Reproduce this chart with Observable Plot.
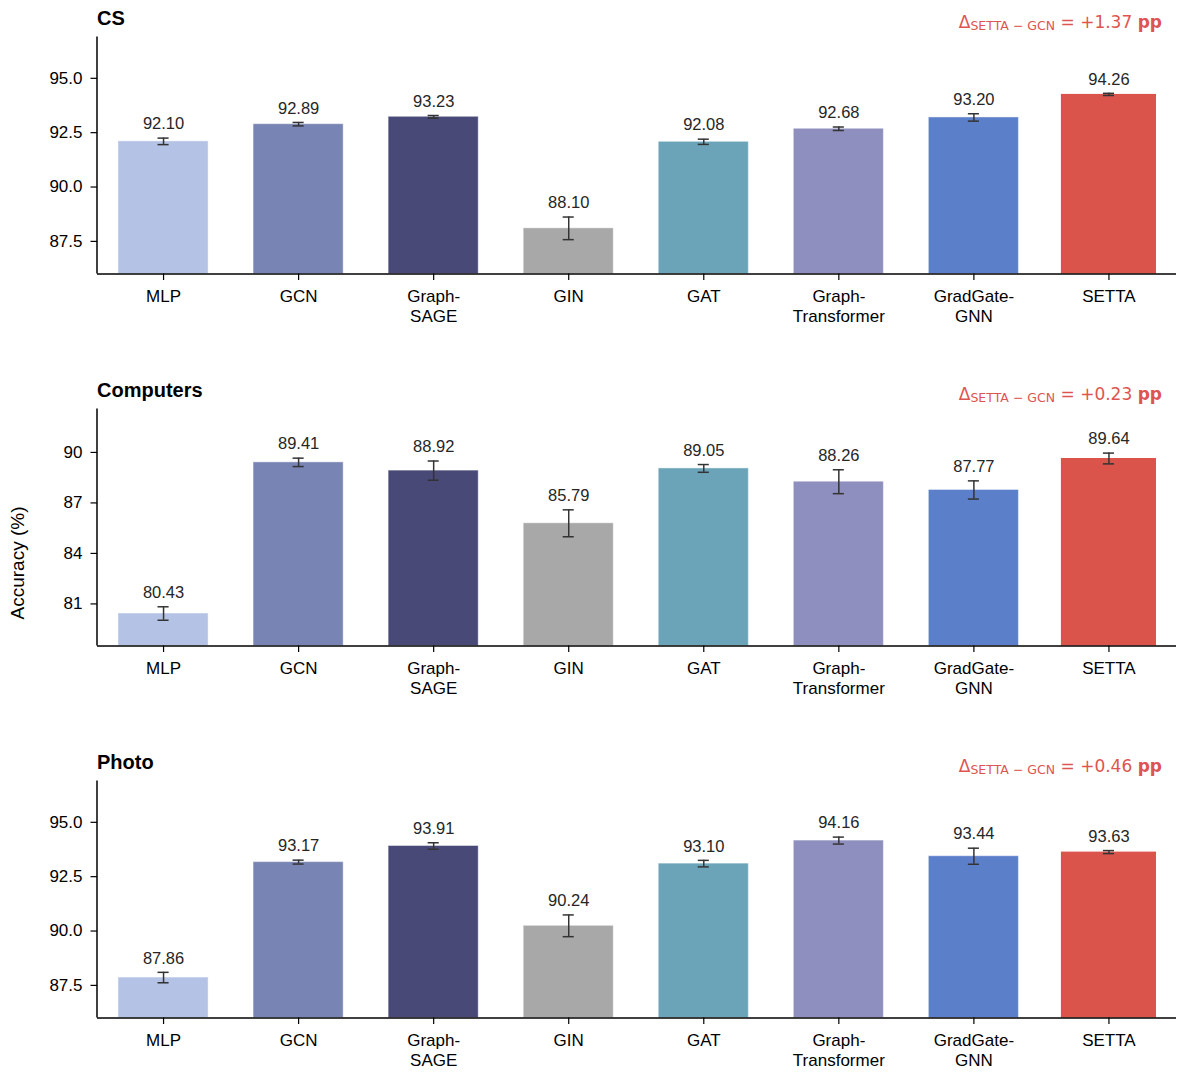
<!DOCTYPE html>
<html><head><meta charset="utf-8">
<script src="https://cdn.jsdelivr.net/npm/d3@7"></script>
<script src="https://cdn.jsdelivr.net/npm/@observablehq/plot@0.6"></script>
<style>
body{margin:0;background:#fff;}
#fig{position:relative;width:1185px;height:1074px;}
.panel{position:absolute;left:0;}
</style></head><body><div id="fig"></div>
<script>
const methods = ["MLP","GCN","GraphSAGE","GIN","GAT","GraphTransformer","GradGateGNN","SETTA"];
const methodLabels = ["MLP","GCN","Graph-\nSAGE","GIN","GAT","Graph-\nTransformer","GradGate-\nGNN","SETTA"];
const barColors = ["#b4c3e5","#7884b3","#484977","#a8a8a8","#6ba4b9","#8f8fbf","#5c7fca","#db544c"];
const datasets = ["CS","Computers","Photo"];
const csMean = [92.10,92.89,93.23,88.10,92.08,92.68,93.20,94.26];
const csStd = [0.15,0.08,0.06,0.52,0.12,0.08,0.17,0.05];
const computersMean = [80.43,89.41,88.92,85.79,89.05,88.26,87.77,89.64];
const computersStd = [0.40,0.25,0.57,0.80,0.23,0.71,0.54,0.32];
const photoMean = [87.86,93.17,93.91,90.24,93.10,94.16,93.44,93.63];
const photoStd = [0.24,0.09,0.15,0.50,0.15,0.16,0.37,0.07];
const yDomains = [[86.0,96.9],[78.5,92.58],[86.0,96.9]];
const yTicks = [[87.5,90,92.5,95],[81,84,87,90],[87.5,90,92.5,95]];
const yTickFormats = [".1f","d",".1f"];
const yLabel = "Accuracy (%)";

const means = [csMean, computersMean, photoMean];
const stds = [csStd, computersStd, photoStd];
const FONT = '"Liberation Sans", Arial, Helvetica, sans-serif';
const fig = d3.select("#fig");

function panel(i) {
  const mean = means[i], std = stds[i];
  const rows = methods.map((m, j) => ({m, mean: mean[j], lo: mean[j] - std[j], hi: mean[j] + std[j]}));
  const H = i < 2 ? 372 : 330;
  const mt = 36.5, ph = 237, ml = 97;
  const [y0, y1] = yDomains[i];
  const svg = Plot.plot({
    width: 1185, height: H,
    marginTop: mt, marginBottom: H - mt - ph, marginLeft: ml, marginRight: 9,
    style: {fontFamily: FONT, fontSize: "17px", color: "#000", background: "white", overflow: "visible"},
    x: {domain: methods, range: [95.5, 1176], paddingInner: 0.333, paddingOuter: 0.1667, round: false, label: null},
    y: {domain: [y0, y1], label: null},
    color: {domain: methods, range: barColors},
    marks: [
      Plot.barY(rows.filter(d => d.m !== "SETTA"), {x: "m", y1: y0, y2: "mean", fill: "m", stroke: "white", strokeOpacity: 0.45, strokeWidth: 1}),
      Plot.barY(rows.filter(d => d.m === "SETTA"), {x: "m", y1: y0, y2: "mean", fill: "m", insetLeft: -2.5, insetRight: -2.5}),
      Plot.ruleX(rows, {x: "m", y1: "lo", y2: "hi", stroke: "#333", strokeWidth: 1.5}),
      Plot.tickY(rows, {x: "m", y: "lo", stroke: "#333", strokeWidth: 1.5, insetLeft: 39.5, insetRight: 39.5}),
      Plot.tickY(rows, {x: "m", y: "hi", stroke: "#333", strokeWidth: 1.5, insetLeft: 39.5, insetRight: 39.5}),
      Plot.text(rows, {x: "m", y: "hi", text: d => d.mean.toFixed(2), dy: -14, fontSize: 16.5, fill: "#262626"}),
      Plot.axisY({ticks: yTicks[i], tickFormat: d3.format(yTickFormats[i]), tickSize: 6.5, tickPadding: 8.5, fontSize: 17, strokeWidth: 1.2, label: null}),
      Plot.axisX({tickFormat: d => methodLabels[methods.indexOf(d)], tickSize: 6.5, tickPadding: 7, fontSize: 17, lineHeight: 1.18, strokeWidth: 1.2, label: null}),
      Plot.ruleY([y0], {stroke: "#000", strokeWidth: 1.5})
    ]
  });
  const s = d3.select(svg);
  const yr = svg.scale("y").range;
  s.append("line").attr("x1", ml).attr("x2", ml).attr("y1", yr[0]).attr("y2", yr[1])
    .attr("stroke", "#000").attr("stroke-width", 1.5);
  // title
  s.append("text").attr("x", ml).attr("y", 25).attr("text-anchor", "start").attr("font-family", FONT).attr("font-weight", "bold")
    .attr("font-size", 20).attr("fill", "#000").text(datasets[i]);
  // delta annotation
  const delta = d3.format("+.2f")(mean[7] - mean[1]);
  const t = s.append("text").attr("x", 1162).attr("y", 27.5).attr("text-anchor", "end")
    .attr("font-family", '"DejaVu Sans", sans-serif').attr("font-size", 17).attr("fill", "#dd5550");
  t.append("tspan").text("Δ");
  t.append("tspan").attr("font-size", 12.5).attr("dy", 2.5).text("SETTA − GCN");
  t.append("tspan").attr("dy", -2.5).text(" = " + delta + " ");
  t.append("tspan").attr("font-weight", "bold").text("pp");
  if (i === 1) {
    s.append("text").attr("transform", "translate(24,191) rotate(-90)").attr("text-anchor", "middle")
      .attr("font-family", FONT).attr("font-size", 19).attr("fill", "#000").text(yLabel);
  }
  fig.append("div").attr("class", "panel").style("top", (i * 372) + "px").node().appendChild(svg);
}
[0, 1, 2].forEach(panel);
</script></body></html>
